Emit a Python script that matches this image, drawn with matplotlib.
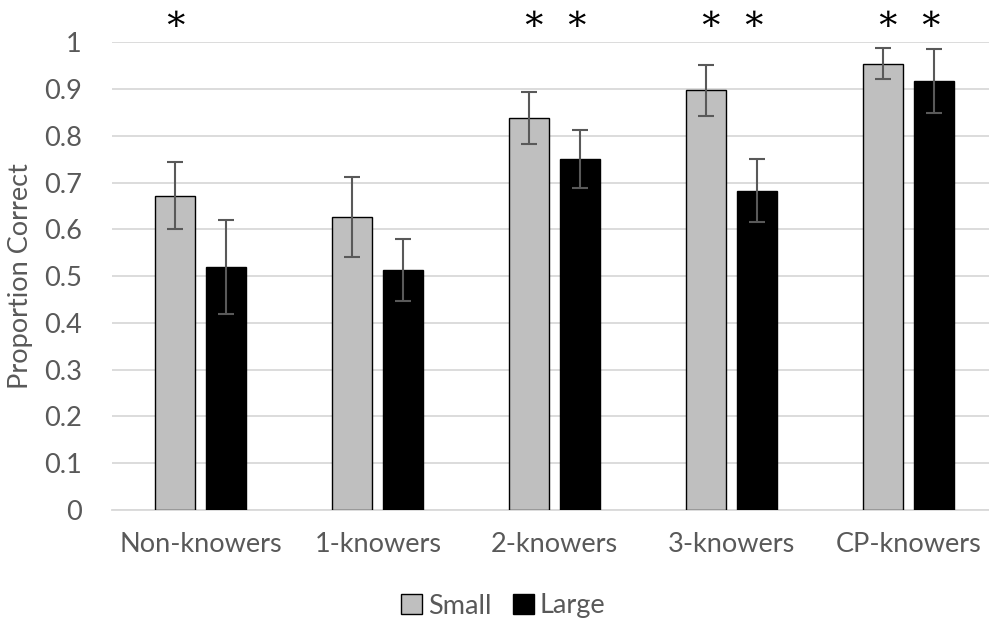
import matplotlib
matplotlib.use("Agg")
import matplotlib.pyplot as plt
import numpy as np
from matplotlib.patches import Patch

categories = ["Non-knowers", "1-knowers", "2-knowers", "3-knowers", "CP-knowers"]
small_vals = [0.672, 0.626, 0.838, 0.897, 0.954]
small_err = [0.071, 0.085, 0.056, 0.055, 0.033]
large_vals = [0.519, 0.513, 0.750, 0.683, 0.917]
large_err = [0.100, 0.066, 0.062, 0.068, 0.069]
# significance markers (small, large)
sig_small = [True, False, True, True, True]
sig_large = [False, False, True, True, True]
yticks = [0, 0.1, 0.2, 0.3, 0.4, 0.5, 0.6, 0.7, 0.8, 0.9, 1]
ytick_labels = ["0", "0.1", "0.2", "0.3", "0.4", "0.5", "0.6", "0.7", "0.8", "0.9", "1"]

plt.rcParams['font.family'] = ['Lato', 'DejaVu Sans']
W, H = 989, 623
fig = plt.figure(figsize=(W / 100, H / 100), dpi=100)
ax = fig.add_axes([112.3 / W, 113 / H, 885 / W, 467.7 / H])

x = np.arange(len(categories))
bw = 0.226
off = 0.143
txt = '#595959'
fs = 19.5

ax.bar(x - off, small_vals, bw, color='#BFBFBF', edgecolor='black', linewidth=1.0, zorder=3, label='Small')
ax.bar(x + off, large_vals, bw, color='black', edgecolor='black', linewidth=1.0, zorder=3, label='Large')
ax.errorbar(x - off, small_vals, yerr=small_err, fmt='none', ecolor='#595959', elinewidth=1.5, capsize=6, capthick=1.5, zorder=4)
ax.errorbar(x + off, large_vals, yerr=large_err, fmt='none', ecolor='#595959', elinewidth=1.5, capsize=6, capthick=1.5, zorder=4)

for i in range(len(categories)):
    both = sig_small[i] and sig_large[i]
    if sig_small[i]:
        dx = -0.121 if both else -0.141
        ax.text(x[i] + dx, 1.047, '∗', ha='center', va='center', fontsize=26, color='black',
                family=['DejaVu Serif'], clip_on=False)
    if sig_large[i]:
        ax.text(x[i] + 0.121, 1.047, '∗', ha='center', va='center', fontsize=26, color='black',
                family=['DejaVu Serif'], clip_on=False)

ax.set_xlim(-0.5, len(categories) - 0.5)
ax.set_ylim(0, 1)
ax.set_yticks(yticks)
ax.set_yticklabels(ytick_labels)
ax.set_xticks(x)
ax.set_xticklabels(categories)
ax.tick_params(axis='both', length=0, labelsize=fs, labelcolor=txt)
ax.tick_params(axis='x', pad=16)
ax.tick_params(axis='y', pad=22)
ax.yaxis.grid(True, color='#D9D9D9', linewidth=1.3, zorder=0)
ax.set_axisbelow(True)
for s in ['top', 'right', 'left']:
    ax.spines[s].set_visible(False)
ax.spines['bottom'].set_color('#D9D9D9')
ax.spines['bottom'].set_linewidth(1.3)
ax.set_ylabel('Proportion Correct', fontsize=fs, color=txt)
ax.yaxis.set_label_coords(-0.0896, 0.5)

handles = [Patch(facecolor='#BFBFBF', edgecolor='black', label='Small'),
           Patch(facecolor='black', edgecolor='black', label='Large')]
fig.legend(handles=handles, loc='center', bbox_to_anchor=(503 / W, 1 - 606 / H), ncol=2,
           frameon=False, fontsize=fs, labelcolor=txt, handlelength=0.8, handleheight=0.8,
           handletextpad=0.2, columnspacing=0.8)

fig.savefig('out.png', dpi=100)
